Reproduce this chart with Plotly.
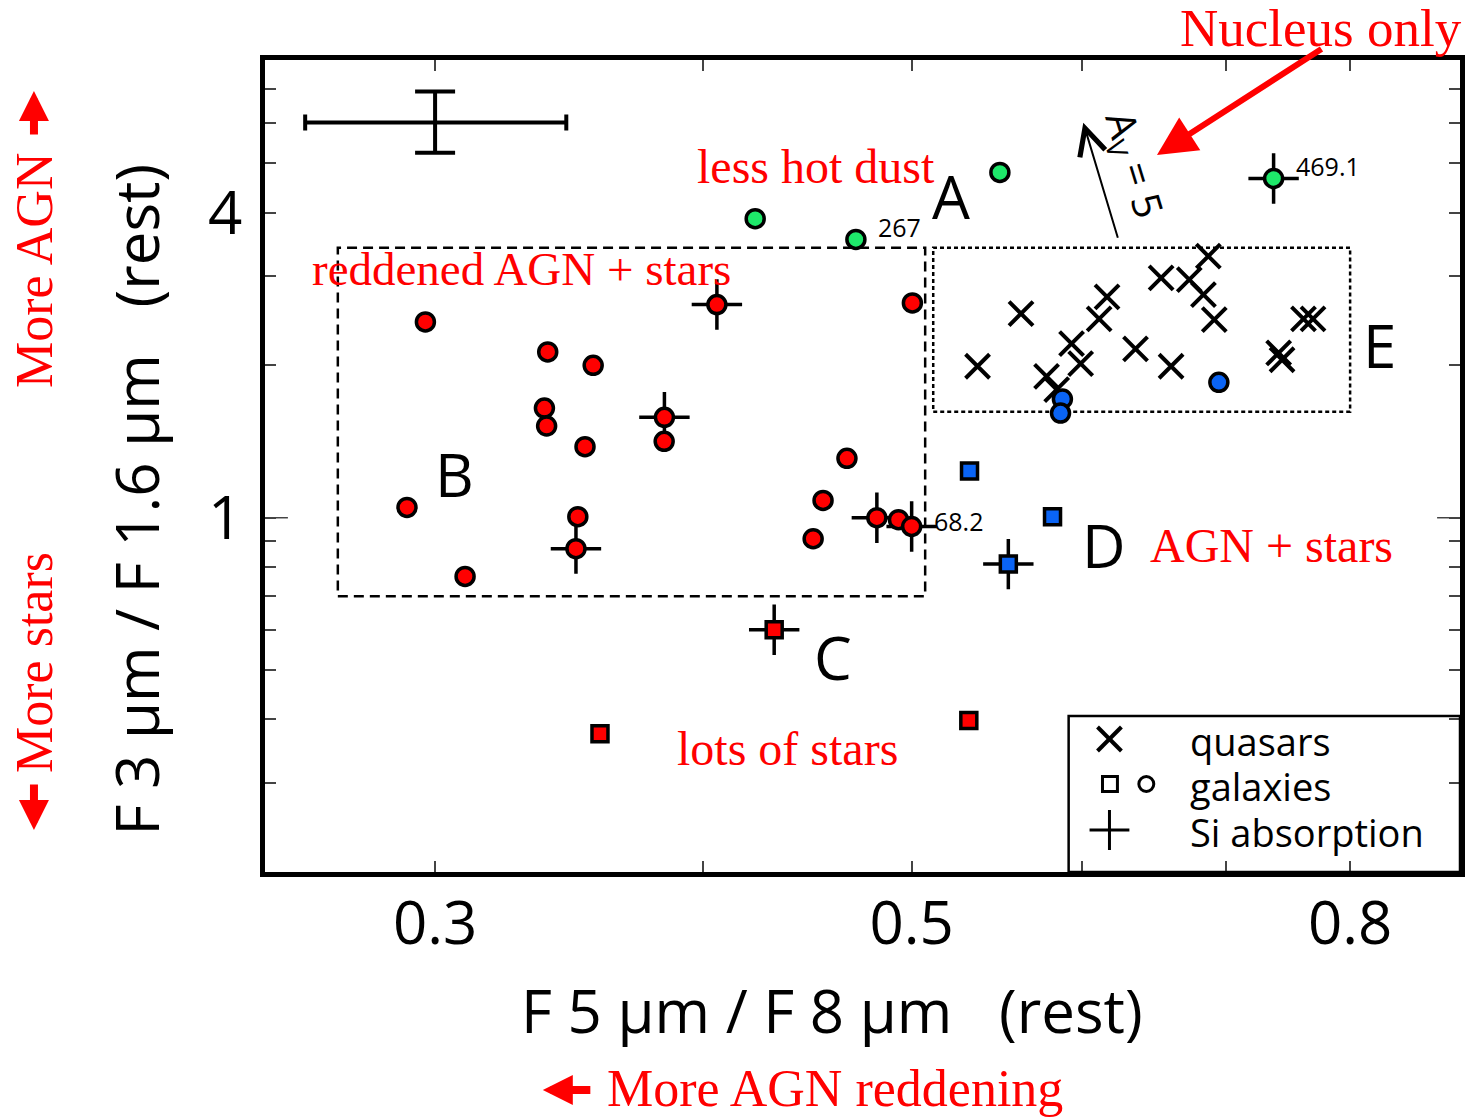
import numpy as np
import plotly.graph_objects as go

# ---------------- data ----------------
quasar_x = [0.5366, 0.5622, 0.5778, 0.5841, 0.5935, 0.5993, 0.6113, 0.6165, 0.6356, 0.6533,
            0.6603, 0.6733, 0.6872, 0.6836, 0.6916, 0.7410, 0.7437, 0.7610, 0.7688]
quasar_y = [1.990, 2.527, 1.901, 1.789, 2.205, 2.014, 2.467, 2.728, 2.153, 2.973,
            1.990, 2.950, 3.281, 2.756, 2.459, 2.114, 2.050, 2.467, 2.467]

green_x = [0.5496, 0.4228, 0.4710, 0.7370]
green_y = [4.80, 3.89, 3.54, 4.67]
green_si = [0, 0, 0, 1]
green_lbl = ["", "", "267", "469.1"]

red_x = [0.2969, 0.3385, 0.3554, 0.3373, 0.3381, 0.3523, 0.2911, 0.3496, 0.3489, 0.3098,
         0.4058, 0.5004, 0.3836, 0.3835, 0.4665, 0.4547, 0.4499, 0.4817, 0.4930, 0.5000]
red_y = [2.434, 2.124, 1.998, 1.646, 1.517, 1.381, 1.048, 1.005, 0.869, 0.766,
         2.634, 2.653, 1.578, 1.415, 1.310, 1.082, 0.909, 1.000, 0.991, 0.961]
red_si = [0, 0, 0, 0, 0, 0, 0, 0, 1, 0,
          1, 0, 1, 0, 0, 0, 0, 1, 0, 1]
red_lbl = [""] * 19 + ["68.2"]

redsq_x = [0.4315, 0.5316, 0.3580]
redsq_y = [0.601, 0.398, 0.375]
redsq_si = [1, 0, 0]

bluesq_x = [0.5320, 0.5815, 0.5546]
bluesq_y = [1.236, 1.005, 0.810]
bluesq_si = [0, 0, 1]

blue_x = [0.6950, 0.5877, 0.5865]
blue_y = [1.850, 1.715, 1.609]

# typical error bar
err_x, err_y = [0.300], [6.02]
err_x_plus, err_x_minus = [0.0453], [0.0390]
err_y_plus, err_y_minus = [0.912], [0.769]

# region boxes (data coordinates)
boxB_x = [0.2703, 0.5073]
boxB_y = [0.700, 3.41]
boxE_x = [0.5117, 0.800]
boxE_y = [1.619, 3.41]

x_ticks = [0.3, 0.4, 0.5, 0.6, 0.7, 0.8]
x_ticktext = ["0.3", "", "0.5", "", "", "0.8"]
y_ticks = [0.3, 0.4, 0.5, 0.6, 0.7, 0.8, 0.9, 1, 2, 3, 4, 5, 6, 7]
y_ticktext = ["", "", "", "", "", "", "", "1", "", "", "4", "", "", ""]
x_range = [0.25, 0.90]
y_range = [0.20, 8.0]

# ---------------- layout helpers ----------------
W, H = 1474, 1119
L, R, T, B = 265, 1465, 60, 872


def px(x):
    return (x - L) / (R - L)


def py(y):
    return (B - y) / (B - T)


RED = "#ff0000"
GREEN = "#1ee86a"
BLUE = "#0a64f5"
SANS = "Open Sans"
SERIF = "Liberation Serif"

fig = go.Figure()


def box_path(bx, by):
    return ([bx[0], bx[1], bx[1], bx[0], bx[0]], [by[0], by[0], by[1], by[1], by[0]])


bx, by = box_path(boxB_x, boxB_y)
fig.add_trace(go.Scatter(x=bx, y=by, mode="lines",
                         line=dict(color="black", width=2.5, dash="10px,6px"),
                         hoverinfo="skip"))
bx, by = box_path(boxE_x, boxE_y)
fig.add_trace(go.Scatter(x=bx, y=by, mode="lines",
                         line=dict(color="black", width=2.5, dash="4px,3px"),
                         hoverinfo="skip"))

# Si absorption crosses (behind the symbols)
si_x, si_y = [], []
for xs, ys, fl in [(green_x, green_y, green_si), (red_x, red_y, red_si),
                   (redsq_x, redsq_y, redsq_si), (bluesq_x, bluesq_y, bluesq_si)]:
    for a, b, f in zip(xs, ys, fl):
        if f:
            si_x.append(a)
            si_y.append(b)
fig.add_trace(go.Scatter(x=si_x, y=si_y, mode="markers",
                         marker=dict(symbol="cross-thin", size=36,
                                     line=dict(color="black", width=3.5))))

fig.add_trace(go.Scatter(x=quasar_x, y=quasar_y, mode="markers",
                         marker=dict(symbol="x-thin", size=24,
                                     line=dict(color="black", width=4))))


def circ(xs, ys, col):
    fig.add_trace(go.Scatter(x=xs, y=ys, mode="markers",
                             marker=dict(symbol="circle", size=18, color=col,
                                         line=dict(color="black", width=3.5))))


def sq(xs, ys, col):
    fig.add_trace(go.Scatter(x=xs, y=ys, mode="markers",
                             marker=dict(symbol="square", size=16, color=col,
                                         line=dict(color="black", width=3.5))))


circ(green_x, green_y, GREEN)
circ(red_x, red_y, RED)
circ(blue_x, blue_y, BLUE)
sq(redsq_x, redsq_y, RED)
sq(bluesq_x, bluesq_y, BLUE)

# typical error bar
fig.add_trace(go.Scatter(
    x=err_x, y=err_y, mode="markers", marker=dict(size=1, color="black"),
    error_x=dict(type="data", symmetric=False, array=err_x_plus, arrayminus=err_x_minus,
                 thickness=4, width=8, color="black"),
    error_y=dict(type="data", symmetric=False, array=err_y_plus, arrayminus=err_y_minus,
                 thickness=4, width=20, color="black")))

ann = []
# point labels
for xs, ys, lb in [(green_x, green_y, green_lbl), (red_x, red_y, red_lbl)]:
    for a, b, t in zip(xs, ys, lb):
        if t:
            ann.append(dict(x=np.log10(a), y=np.log10(b), xref="x", yref="y", text=t,
                            showarrow=False, xanchor="left", yanchor="middle",
                            xshift=20, yshift=12 if t != "68.2" else 5,
                            font=dict(family=SANS, size=25, color="black")))


def txt(x, y, t, size, color="black", family=SANS, angle=0, xanchor="center"):
    ann.append(dict(x=px(x), y=py(y), xref="paper", yref="paper", text=t, showarrow=False,
                    xanchor=xanchor, yanchor="middle", textangle=angle,
                    font=dict(family=family, size=size, color=color)))


# region letters
txt(954, 196, "A", 60)
txt(455, 474, "B", 60)
txt(835, 657, "C", 60)
txt(1108, 545, "D", 60)
txt(1384, 345, "E", 60)

# red region captions
txt(818, 166, "less hot dust", 48, RED, SERIF)
txt(523, 269, "reddened AGN + stars", 47, RED, SERIF)
txt(790, 748, "lots of stars", 48, RED, SERIF)
txt(1276, 545, "AGN + stars", 48, RED, SERIF)
txt(1325, 28, "Nucleus only", 53, RED, SERIF)

# axis titles
txt(834, 1010, "F 5 \u00b5m / F 8 \u00b5m   (rest)", 60)
txt(135, 500, "F 3 \u00b5m / F 1.6 \u00b5m   (rest)", 60, angle=-90)
txt(837, 1088, "More AGN reddening", 52, RED, SERIF)
txt(33, 270, "More AGN", 52, RED, SERIF, angle=-90)
txt(33, 662, "More stars", 52, RED, SERIF, angle=-90)

# A_V label
txt(1138, 165, "A<sub>V</sub> = 5", 40, angle=73)


def arrow(tipx, tipy, tailx, taily, color, width, head, size):
    ann.append(dict(x=px(tipx), y=py(tipy), xref="paper", yref="paper", text="",
                    showarrow=True, ax=tailx - tipx, ay=taily - tipy,
                    axref="pixel", ayref="pixel",
                    arrowcolor=color, arrowwidth=width, arrowhead=head, arrowsize=size,
                    standoff=0, startstandoff=0, font=dict(size=1)))


arrow(1160.7, 155, 1326.7, 48, RED, 6, 2, 1.3)
arrow(1086.7, 122.7, 1121.7, 239.3, "black", 2, 5, 2.6)
arrow(33, 91, 33, 136, RED, 8, 2, 0.75)
arrow(33, 830, 33, 783, RED, 8, 2, 0.75)
arrow(544, 1090, 593, 1090, RED, 8, 2, 0.75)

# legend text
txt(1192, 741, "quasars", 38, xanchor="left")
txt(1192, 786, "galaxies", 38, xanchor="left")
txt(1192, 832, "Si absorption", 38, xanchor="left")

shapes = []
# legend frame
shapes.append(dict(type="rect", xref="paper", yref="paper", x0=px(1072), x1=px(1465),
                   y0=py(872), y1=py(716), line=dict(color="black", width=2.5)))


def seg(x0, y0, x1, y1, w):
    shapes.append(dict(type="line", xref="paper", yref="paper", x0=px(x0), y0=py(y0),
                       x1=px(x1), y1=py(y1), line=dict(color="black", width=w)))


seg(1101, 727, 1125, 751, 4)
seg(1101, 751, 1125, 727, 4)
shapes.append(dict(type="rect", xref="paper", yref="paper", x0=px(1106), x1=px(1121),
                   y0=py(791.5), y1=py(776.5), line=dict(color="black", width=3)))
shapes.append(dict(type="circle", xref="paper", yref="paper", x0=px(1142.5), x1=px(1157.5),
                   y0=py(791.5), y1=py(776.5), line=dict(color="black", width=3)))
seg(1093, 830, 1133, 830, 3)
seg(1113, 810, 1113, 850, 3)

# longer tick marks at y = 1
ly = (np.log10(1.0) - np.log10(y_range[0])) / (np.log10(y_range[1]) - np.log10(y_range[0]))
shapes.append(dict(type="line", xref="paper", yref="paper", x0=0, x1=px(L + 23), y0=ly, y1=ly,
                   line=dict(color="#444", width=1.5)))
shapes.append(dict(type="line", xref="paper", yref="paper", x0=px(R - 23), x1=1, y0=ly, y1=ly,
                   line=dict(color="#444", width=1.5)))

axis_common = dict(type="log", showgrid=False, zeroline=False, showline=True, linewidth=4.5,
                   linecolor="black", mirror="allticks", ticks="inside", ticklen=11,
                   tickwidth=1.5, tickcolor="#444",
                   tickfont=dict(family=SANS, size=60, color="black"))

fig.update_layout(
    width=W, height=H, autosize=False,
    margin=dict(l=L, r=W - R, t=T, b=H - B),
    plot_bgcolor="white", paper_bgcolor="white",
    showlegend=False,
    xaxis=dict(range=list(np.log10(x_range)), tickvals=x_ticks, ticktext=x_ticktext,
               ticklabelstandoff=-5, **axis_common),
    yaxis=dict(range=list(np.log10(y_range)), tickvals=y_ticks, ticktext=y_ticktext,
               ticklabelstandoff=6, **axis_common),
    annotations=ann, shapes=shapes,
)

fig.write_html("out.html")
